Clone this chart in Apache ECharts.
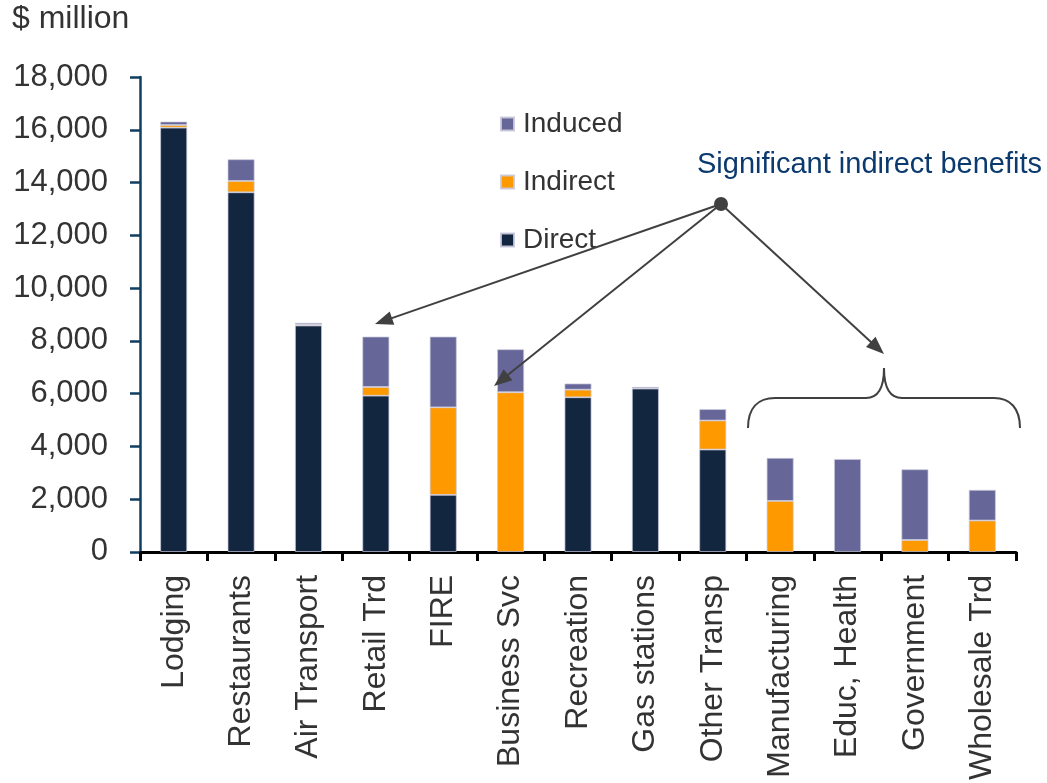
<!DOCTYPE html>
<html>
<head>
<meta charset="utf-8">
<script src="https://cdn.jsdelivr.net/npm/echarts@6/dist/echarts.min.js"></script>
<style>
  html, body { margin: 0; padding: 0; background: #fff; }
  #chart { width: 1047px; height: 783px; }
</style>
</head>
<body>
<div id="chart"></div>
<script>
// Economic impact by sector, $ million
const categories = ['Lodging', 'Restaurants', 'Air Transport', 'Retail Trd', 'FIRE', 'Business Svc',
  'Recreation', 'Gas stations', 'Other Transp', 'Manufacturing', 'Educ, Health', 'Government', 'Wholesale Trd'];
const direct   = [16080, 13630, 8580, 5920, 2160, 0,    5860, 6190, 3880, 0,    0,    0,    0];
const indirect = [100,   430,   40,   330,  3320, 6050, 290,  0,    1100, 1930, 0,    450,  1190];
const induced  = [130,   820,   60,   1910, 2680, 1630, 230,  60,   430,  1630, 3520, 2680, 1160];
const yTicks = [0, 2000, 4000, 6000, 8000, 10000, 12000, 14000, 16000, 18000];

const FONT = 'Liberation Sans, Arial, sans-serif';
const TEXT = '#333333';
const LINE = '#404040';

const chart = echarts.init(document.getElementById('chart'));

// empty segments are left out so no outline is drawn for them
const seriesData = arr => arr.map(v => (v === 0 ? '-' : v));

function arrowHead(x1, y1, x2, y2, len, half) {
  const a = Math.atan2(y2 - y1, x2 - x1);
  const bx = x2 - len * Math.cos(a), by = y2 - len * Math.sin(a);
  const px = -Math.sin(a) * half, py = Math.cos(a) * half;
  return [[x2, y2], [bx + px, by + py], [bx - px, by - py]];
}

function arrow(from, to) {
  const head = arrowHead(from[0], from[1], to[0], to[1], 18, 7);
  const a = Math.atan2(to[1] - from[1], to[0] - from[0]);
  const end = [to[0] - 14 * Math.cos(a), to[1] - 14 * Math.sin(a)];
  return [
    { type: 'line', shape: { x1: from[0], y1: from[1], x2: end[0], y2: end[1] },
      style: { stroke: LINE, lineWidth: 2 }, z: 50 },
    { type: 'polygon', shape: { points: head }, style: { fill: LINE }, z: 50 }
  ];
}

const braceStyle = { stroke: LINE, lineWidth: 2, fill: null };
function curve(x1, y1, c1x, c1y, c2x, c2y, x2, y2) {
  return { type: 'bezierCurve', z: 50, style: braceStyle,
    shape: { x1: x1, y1: y1, cpx1: c1x, cpy1: c1y, cpx2: c2x, cpy2: c2y, x2: x2, y2: y2 } };
}
function seg(x1, y1, x2, y2) {
  return { type: 'line', z: 50, style: braceStyle, shape: { x1: x1, y1: y1, x2: x2, y2: y2 } };
}

const hub = [721, 204];
const graphics = [
  { type: 'text', x: 12, y: 3,
    style: { text: '$ million', font: '32px ' + FONT, fill: TEXT } },
  { type: 'text', x: 697, y: 150,
    style: { text: 'Significant indirect benefits', font: '29px ' + FONT, fill: '#0b3a6e' } },
  ...arrow(hub, [375, 324]),
  ...arrow(hub, [494, 386]),
  ...arrow(hub, [884, 354]),
  { type: 'circle', shape: { cx: hub[0], cy: hub[1], r: 7 }, style: { fill: LINE }, z: 51 },
  // curly brace over the last four sectors
  curve(748, 428, 748, 408, 758, 398, 775, 398),
  seg(775, 398, 866, 398),
  curve(866, 398, 878, 398, 884, 388, 884, 368),
  curve(884, 368, 884, 388, 890, 398, 902, 398),
  seg(902, 398, 994, 398),
  curve(994, 398, 1010, 398, 1020, 408, 1020, 428)
];

const barBorder = { borderColor: 'rgba(200,200,220,0.9)', borderWidth: 0.8 };

chart.setOption({
  animation: false,
  textStyle: { fontFamily: FONT },
  grid: { left: 140, right: 31, top: 77, bottom: 231, containLabel: false },
  legend: {
    data: ['Induced', 'Indirect', 'Direct'],
    orient: 'vertical',
    left: 495, top: 105,
    itemWidth: 13, itemHeight: 13, itemGap: 30,
    icon: 'rect',
    textStyle: { fontSize: 28, color: TEXT, fontFamily: FONT, padding: [0, 0, 0, 4] },
    selectedMode: false
  },
  xAxis: {
    type: 'category',
    data: categories,
    axisLine: { lineStyle: { color: '#000', width: 3 } },
    axisTick: { show: true, length: 9, lineStyle: { color: '#000', width: 3 } },
    axisLabel: { rotate: 90, margin: 23, fontSize: 32, color: TEXT, fontFamily: FONT, interval: 0 },
    splitLine: { show: false }
  },
  yAxis: {
    type: 'value',
    min: yTicks[0], max: yTicks[yTicks.length - 1], interval: yTicks[1] - yTicks[0],
    axisLine: { show: true, lineStyle: { color: '#0f3f60', width: 2.5 } },
    axisTick: { show: true, length: 10, lineStyle: { color: '#0f3f60', width: 2.5 } },
    axisLabel: { margin: 32, fontSize: 31, color: TEXT, fontFamily: FONT,
      formatter: v => v.toLocaleString('en-US') },
    splitLine: { show: false }
  },
  series: [
    { name: 'Direct', type: 'bar', stack: 'total', data: seriesData(direct), barCategoryGap: '60%',
      itemStyle: Object.assign({ color: '#13263f' }, barBorder) },
    { name: 'Indirect', type: 'bar', stack: 'total', data: seriesData(indirect), barCategoryGap: '60%',
      itemStyle: Object.assign({ color: '#ff9900' }, barBorder) },
    { name: 'Induced', type: 'bar', stack: 'total', data: seriesData(induced), barCategoryGap: '60%',
      itemStyle: Object.assign({ color: '#666699' }, barBorder) }
  ],
  graphic: graphics
});
</script>
</body>
</html>
